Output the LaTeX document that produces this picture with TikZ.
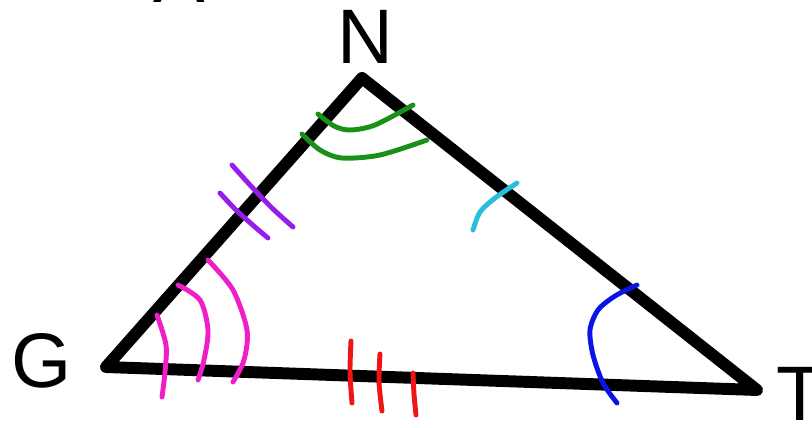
\documentclass[tikz,border=0pt]{standalone}
\usepackage{fontspec}
\setmainfont{Liberation Sans}
\definecolor{angleGreen}{RGB}{25,145,25}
\definecolor{sidePurple}{RGB}{150,30,235}
\definecolor{anglePink}{RGB}{240,30,200}
\definecolor{sideCyan}{RGB}{40,190,220}
\definecolor{angleBlue}{RGB}{10,20,230}
\definecolor{sideRed}{RGB}{240,20,20}
\tikzset{
    edge/.style={line width=6.8pt, line join=round, line cap=round},
    mark line/.style={line width=2.8pt, line cap=round},
    vertex label/.style={inner sep=0, font=\fontsize{44}{44}\selectfont}
}
\begin{document}
\begin{tikzpicture}[x=0.02cm, y=-0.02cm]
        \useasboundingbox (0, 0) rectangle (812, 427);
        % Vertices and labels:
        \coordinate (G) at (106, 367);
        \coordinate (N) at (362, 78);
        \coordinate (T) at (757, 390);
        \node[vertex label](LabelA) at (179, -24){A};
        \node[vertex label](LabelN) at (365, 37){N};
        \node[vertex label](LabelG) at (42, 361){G};
        \node[vertex label](LabelT) at (800, 394){T};
        % Triangle:
        \draw[edge] (G) -- (N) -- (T) -- cycle;
        % Angle marks:
        \draw[mark line, draw=angleGreen] plot[smooth] coordinates {(318, 114) (334, 126) (350, 130) (375, 125) (413, 105)};
        \draw[mark line, draw=angleGreen] plot[smooth] coordinates {(302, 134) (320, 150) (342, 158) (380, 155) (427, 140)};
        \draw[mark line, draw=anglePink] plot[smooth] coordinates {(157, 315) (166, 345) (165, 372) (162, 397)};
        \draw[mark line, draw=anglePink] plot[smooth] coordinates {(178, 285) (200, 300) (208, 330) (204, 360) (198, 380)};
        \draw[mark line, draw=anglePink] plot[smooth] coordinates {(208, 260) (233, 290) (247, 330) (244, 360) (233, 382)};
        \draw[mark line, draw=angleBlue] plot[smooth] coordinates {(637, 285) (615, 296) (598, 310) (590, 330) (593, 355) (603, 383) (617, 403)};
        % Side ticks:
        \draw[mark line, draw=sidePurple] plot[smooth] coordinates {(232, 165) (250, 185) (272, 208) (293, 227)};
        \draw[mark line, draw=sidePurple] plot[smooth] coordinates {(220, 193) (236, 210) (255, 227) (268, 238)};
        \draw[mark line, draw=sideCyan] plot[smooth] coordinates {(517, 183) (495, 198) (480, 212) (473, 230)};
        \draw[mark line, draw=sideRed] plot[smooth] coordinates {(351, 341) (350, 372) (352, 403)};
        \draw[mark line, draw=sideRed] plot[smooth] coordinates {(380, 354) (379, 382) (382, 411)};
        \draw[mark line, draw=sideRed] plot[smooth] coordinates {(413, 373) (414, 394) (416, 415)};
    \end{tikzpicture}
\end{document}
